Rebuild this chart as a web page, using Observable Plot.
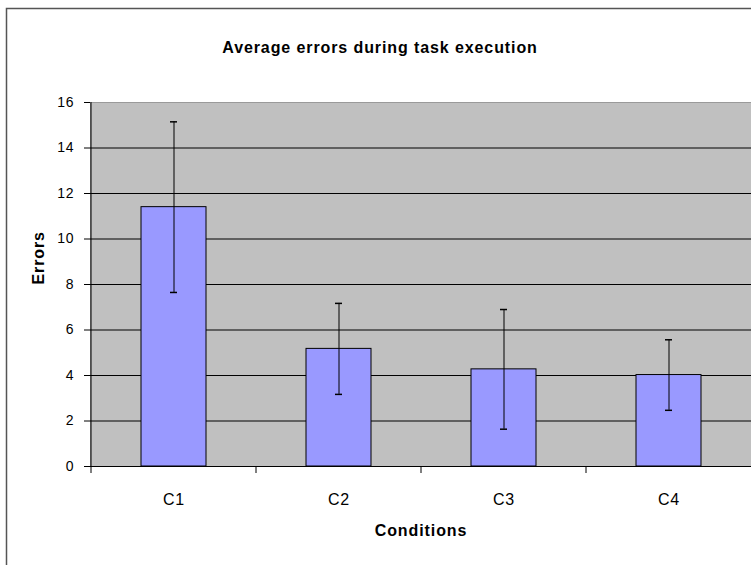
<!DOCTYPE html>
<html>
<head>
<meta charset="utf-8">
<script src="https://cdn.jsdelivr.net/npm/d3@7"></script>
<script src="https://cdn.jsdelivr.net/npm/@observablehq/plot@0.6"></script>
<style>
  html, body { margin: 0; padding: 0; background: white; overflow: hidden; }
  #chart svg { font-family: "Liberation Sans", Arial, sans-serif; }
</style>
</head>
<body>
<div id="chart"></div>
<script>
const categories = ["C1", "C2", "C3", "C4"];
const means = [11.4, 5.17, 4.27, 4.02];
const errors = [3.75, 2.0, 2.63, 1.55];
const yTicks = [0, 2, 4, 6, 8, 10, 12, 14, 16];
const gridValues = [2, 4, 6, 8, 10, 12, 14];
const titleText = "Average errors during task execution";
const xLabel = "Conditions";
const yLabel = "Errors";

const data = categories.map((c, i) => ({cat: c, mean: means[i], lo: means[i] - errors[i], hi: means[i] + errors[i]}));

const W = 751, H = 565;
const mL = 90, mT = 102, mB = 99;

const plot = Plot.plot({
  width: W,
  height: H,
  marginLeft: mL,
  marginTop: mT,
  marginBottom: mB,
  marginRight: 0,
  style: {fontFamily: "Liberation Sans, Arial, sans-serif", fontSize: "14px", overflow: "hidden", background: "white"},
  x: {domain: categories, range: [mL, W + 1], padding: 0, label: null},
  y: {domain: [0, 16], range: [H - mB, mT], label: null},
  marks: [
    // outer chart border
    Plot.frame({stroke: "#555", strokeWidth: 1.5, insetLeft: -84, insetTop: -94, insetRight: -8, insetBottom: -110}),
    Plot.frame({fill: "#c0c0c0", stroke: "#9a9a9a"}),
    Plot.ruleY(gridValues, {stroke: "black", strokeWidth: 1}),
    Plot.barY(data, {x: "cat", y: "mean", fill: "#9999ff", stroke: "black", strokeWidth: 1, insetLeft: 50, insetRight: 50}),
    Plot.ruleX(data, {x: "cat", y1: "lo", y2: "hi", stroke: "black", strokeWidth: 1}),
    Plot.tickY(data, {x: "cat", y: "lo", stroke: "black", strokeWidth: 1.5, insetLeft: 79, insetRight: 79}),
    Plot.tickY(data, {x: "cat", y: "hi", stroke: "black", strokeWidth: 1.5, insetLeft: 79, insetRight: 79}),
    Plot.ruleY([0], {stroke: "black", strokeWidth: 1}),
    Plot.ruleX([0], {x: () => categories[0], dx: -83, y1: 0, y2: 16, stroke: "black"}),
    // x ticks at band boundaries
    Plot.ruleX(categories, {x: d => d, dx: -83, y1: 0, y2: 0, insetBottom: -7, stroke: "black"}),
    Plot.axisY({ticks: yTicks, tickSize: 6, tickPadding: 10, fontSize: 14, stroke: "black", fill: "black"}),
    Plot.axisX({tickSize: 0, tickPadding: 27, fontSize: 16, fill: "black"}),
    Plot.text([titleText], {frameAnchor: "top", dx: -41, dy: -61, fontSize: 16, fontWeight: "bold", fill: "black"}),
    Plot.text([xLabel], {frameAnchor: "bottom", dy: 69, fontSize: 16, fontWeight: "bold", fill: "black"}),
    Plot.text([yLabel], {frameAnchor: "left", dx: -52, rotate: -90, fontSize: 16, fontWeight: "bold", fill: "black"})
  ]
});
d3.select(plot).selectAll("text").style("letter-spacing", "0.9px");
document.getElementById("chart").appendChild(plot);
</script>
</body>
</html>
